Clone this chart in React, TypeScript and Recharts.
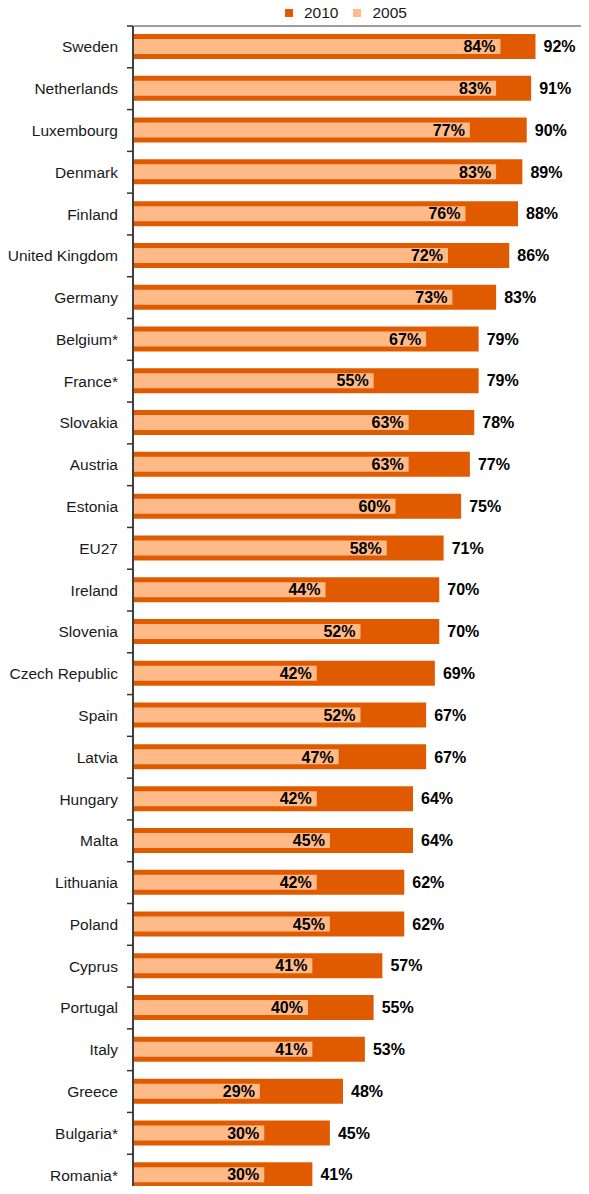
import React from 'react';
import { BarChart, Bar, XAxis, YAxis, Legend, LabelList } from 'recharts';

const countries = [
  'Sweden', 'Netherlands', 'Luxembourg', 'Denmark', 'Finland', 'United Kingdom', 'Germany',
  'Belgium*', 'France*', 'Slovakia', 'Austria', 'Estonia', 'EU27', 'Ireland', 'Slovenia',
  'Czech Republic', 'Spain', 'Latvia', 'Hungary', 'Malta', 'Lithuania', 'Poland', 'Cyprus',
  'Portugal', 'Italy', 'Greece', 'Bulgaria*', 'Romania*',
];
const values2010 = [92, 91, 90, 89, 88, 86, 83, 79, 79, 78, 77, 75, 71, 70, 70, 69, 67, 67, 64, 64, 62, 62, 57, 55, 53, 48, 45, 41];
const values2005 = [84, 83, 77, 83, 76, 72, 73, 67, 55, 63, 63, 60, 58, 44, 52, 42, 52, 47, 42, 45, 42, 45, 41, 40, 41, 29, 30, 30];

const DARK = '#E05A00';
const LIGHT = '#FFBA88';
const FRAME = '#9c9c9c';
const FONT = '"Liberation Sans", Arial, sans-serif';

const W = 589;
const H = 1200;
const TOP = 26;
const BOTTOM = 4;
const AXIS_W = 133;
const BAND = (H - TOP - BOTTOM) / countries.length;
const X_MAX = 104;

const data = countries.map((country, i) => ({
  country,
  y2010: values2010[i],
  y2005: values2005[i],
}));

// category label at the band centre, tick mark at the band boundary above it
const renderCountryTick = (props: any) => {
  const { x, y, payload } = props;
  const ty = y - BAND / 2;
  return (
    <g>
      <path d={`M${x - 6},${ty}H${x}`} stroke="#333" strokeWidth={1.5} fill="none" />
      <text x={x - 15} y={y} textAnchor="end" dominantBaseline="central" fontSize={15.5} fill="#1a1a1a" fontFamily={FONT}>
        {payload.value}
      </text>
    </g>
  );
};

const LegendContent = () => (
  <div style={{ display: 'flex', alignItems: 'center', height: TOP, paddingLeft: 285, fontFamily: FONT, fontSize: 15.5, color: '#1a1a1a' }}>
    <span style={{ width: 8, height: 8, background: DARK, display: 'inline-block' }} />
    <span style={{ marginLeft: 11, marginRight: 15 }}>2010</span>
    <span style={{ width: 8, height: 8, background: LIGHT, display: 'inline-block' }} />
    <span style={{ marginLeft: 11 }}>2005</span>
  </div>
);

const pct = (v: any) => `${v}%`;

export default function App() {
  return (
    <div style={{ position: 'relative', margin: -8, width: W, height: 1194, overflow: 'hidden', background: '#fff' }}>
      <BarChart
        width={W}
        height={H}
        data={data}
        layout="vertical"
        margin={{ top: 0, right: 1, left: 0, bottom: BOTTOM }}
        barGap={0}
      >
        <Legend verticalAlign="top" align="left" content={<LegendContent />} wrapperStyle={{ top: 0, left: 0, width: W, height: TOP }} />
        <XAxis type="number" domain={[0, X_MAX]} hide height={0} />
        <YAxis yAxisId="inner" type="category" dataKey="country" hide width={0} orientation="right" />
        <YAxis
          yAxisId="main"
          type="category"
          dataKey="country"
          width={AXIS_W}
          interval={0}
          tickSize={0}
          tickMargin={0}
          tickLine={false}
          axisLine={{ stroke: '#404040', strokeWidth: 2 }}
          tick={renderCountryTick}
        />
        <Bar yAxisId="main" dataKey="y2010" name="2010" fill={DARK} barSize={25} isAnimationActive={false}>
          <LabelList dataKey="y2010" position="right" offset={8} formatter={pct} fill="#000" fontWeight="bold" fontSize={16} fontFamily={FONT} />
        </Bar>
        <Bar yAxisId="inner" dataKey="y2005" name="2005" fill={LIGHT} barSize={15} isAnimationActive={false}>
          <LabelList dataKey="y2005" position="insideRight" offset={5} formatter={pct} fill="#000" fontWeight="bold" fontSize={16} fontFamily={FONT} />
        </Bar>
      </BarChart>
      {/* plot frame: top and right edges */}
      <div
        style={{
          position: 'absolute',
          left: AXIS_W + 1,
          top: TOP - 1,
          width: W - AXIS_W - 3,
          height: H,
          borderTop: `2px solid ${FRAME}`,
          borderRight: `2px solid ${FRAME}`,
          boxSizing: 'border-box',
          pointerEvents: 'none',
          zIndex: 5,
        }}
      />
    </div>
  );
}
